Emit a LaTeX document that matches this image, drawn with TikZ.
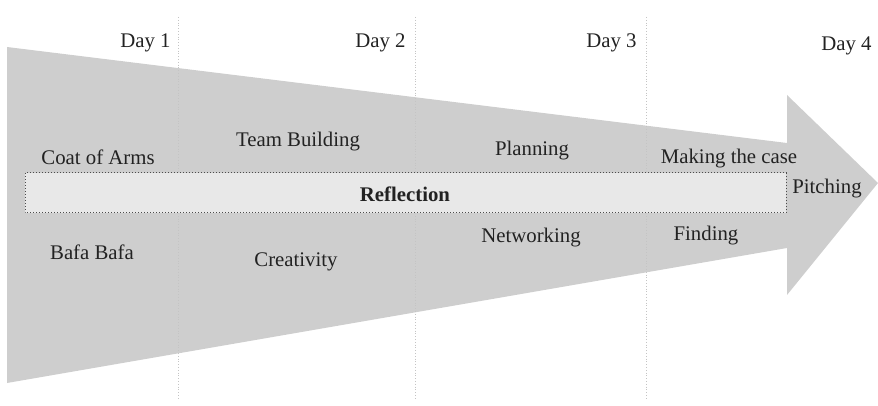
\documentclass[tikz,border=0pt]{standalone}
\usepackage{fontspec}
\setmainfont{Liberation Serif}
\definecolor{arrowgray}{HTML}{CECECE}
\definecolor{boxgray}{HTML}{E8E8E8}
\definecolor{linegray}{HTML}{C4C4C4}
\definecolor{txt}{HTML}{222222}
\begin{document}
\begin{tikzpicture}[x=0.5pt,y=-0.5pt,
  lbl/.style={inner sep=0pt,text=txt,font=\fontsize{10.4}{12}\selectfont},
  dayline/.style={draw=linegray,line width=0.4pt,densely dotted},
  reflbox/.style={draw=black!70,fill=boxgray,densely dotted,line width=0.5pt}]
\useasboundingbox (0,0) rectangle (878,406);
% arrow
\fill[arrowgray] (7,47) -- (787,143) -- (787,95) -- (878,183) -- (787,295) -- (787,248) -- (7,383) -- cycle;
% day lines
\foreach \xx in {178,415,646}
  \draw[dayline] (\xx,17) -- (\xx,400);
% reflection box
\draw[reflbox] (25,173) rectangle (786,213);
\node[lbl,font=\fontsize{10.4}{12}\selectfont\bfseries] (refl) at (405,194) {Reflection};
% days
\node[lbl,anchor=east] (d1) at (171,43) {Day 1};
\node[lbl,anchor=east] (d2) at (406,43) {Day 2};
\node[lbl,anchor=east] (d3) at (637,43) {Day 3};
\node[lbl,anchor=east] (d4) at (872,46) {Day 4};
% activities
\node[lbl] (coat) at (98,157) {Coat of Arms};
\node[lbl] (team) at (298,142) {Team Building};
\node[lbl] (plan) at (532,151) {Planning};
\node[lbl] (case) at (729,159) {Making the case};
\node[lbl] (pitch) at (827,189) {Pitching};
\node[lbl] (bafa) at (92,252) {Bafa Bafa};
\node[lbl] (crea) at (296,262) {Creativity};
\node[lbl] (net) at (531,238) {Networking};
\node[lbl] (find) at (706,236) {Finding};
\end{tikzpicture}
\end{document}
